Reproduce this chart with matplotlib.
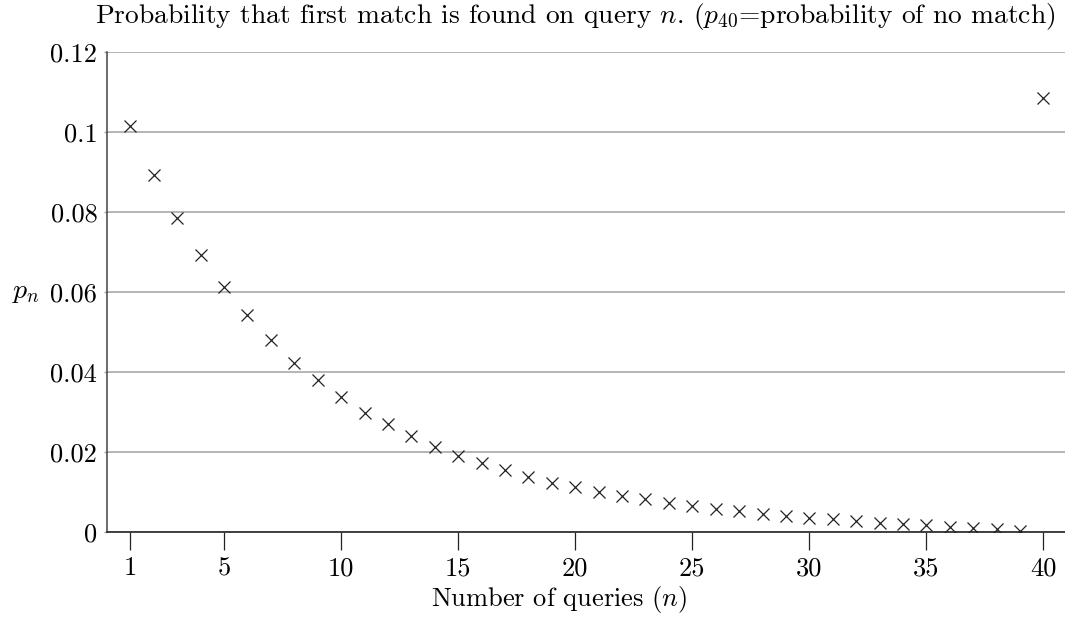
import numpy as np
import matplotlib
matplotlib.use("Agg")
import matplotlib.pyplot as plt

plt.rcParams["font.family"] = "serif"
plt.rcParams["font.serif"] = ["cmr10"]
plt.rcParams["mathtext.fontset"] = "cm"
plt.rcParams["axes.formatter.use_mathtext"] = True

FONT_SIZE = 19

# probability that the first match is found on query n (n = 40 -> no match)
queries = list(range(1, 41))
p_n = [
    0.1014, 0.0892, 0.0784, 0.0692, 0.0611, 0.0542, 0.0479, 0.0423, 0.0379, 0.0336,
    0.0298, 0.0269, 0.0239, 0.0213, 0.0190, 0.0172, 0.0154, 0.0138, 0.0123, 0.0111,
    0.0100, 0.0090, 0.0081, 0.0073, 0.0065, 0.0058, 0.0052, 0.0045, 0.0040, 0.0035,
    0.0031, 0.0026, 0.0023, 0.0019, 0.0016, 0.0012, 0.0009, 0.0006, 0.0002, 0.1086,
]

x_ticks = [1, 5, 10, 15, 20, 25, 30, 35, 40]
y_ticks = [0, 0.02, 0.04, 0.06, 0.08, 0.1, 0.12]
y_tick_labels = ["0", "0.02", "0.04", "0.06", "0.08", "0.1", "0.12"]

fig = plt.figure(figsize=(10.65, 6.18), dpi=100)
ax = fig.add_axes([107 / 1065, 1 - 531.7 / 618, 958 / 1065, (531.7 - 52) / 618])

ax.plot(queries, p_n, linestyle="none", marker="x", markersize=9,
        markeredgewidth=0.9, color="#222222", zorder=3)

ax.set_xlim(0, 40.92)
ax.set_ylim(0, 0.12)

ax.set_xticks(x_ticks)
ax.set_xticklabels([str(t) for t in x_ticks])
ax.set_yticks(y_ticks)
ax.set_yticklabels(y_tick_labels)

ax.grid(axis="y", color="#a0a0a0", linewidth=1.1)
ax.set_axisbelow(True)

for side in ["top", "right"]:
    ax.spines[side].set_visible(False)
ax.spines["left"].set_color("#444444")
ax.spines["bottom"].set_color("#333333")
ax.spines["left"].set_linewidth(1.1)
ax.spines["bottom"].set_linewidth(1.3)

ax.tick_params(axis="x", direction="out", length=13, width=0.9, color="#222222",
               pad=5, labelsize=FONT_SIZE)
ax.tick_params(axis="y", direction="out", length=2, width=1.0, color="#a0a0a0",
               pad=5, labelsize=FONT_SIZE)

ax.set_xlabel(r"Number of queries ($n$)", fontsize=FONT_SIZE, va="center")
ax.xaxis.set_label_coords(0.472, -0.142)

ax.set_ylabel(r"$p_n$", fontsize=FONT_SIZE + 1, rotation=0, va="center")
ax.yaxis.set_label_coords(-0.085, 0.5)

ax.set_title(r"Probability that first match is found on query $n$. ($p_{40}$=probability of no match)",
             fontsize=FONT_SIZE + 0.8, x=0.4885, y=1.0, pad=21)

plt.savefig("out.png", dpi=100)
